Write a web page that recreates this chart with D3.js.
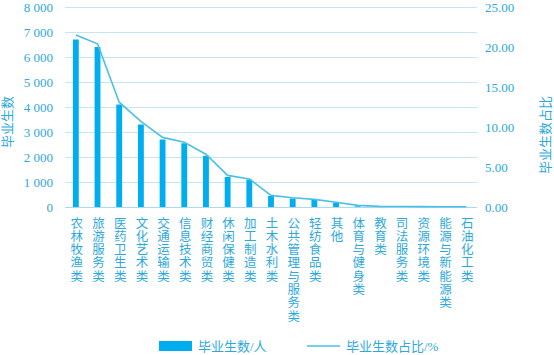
<!DOCTYPE html>
<html>
<head>
<meta charset="utf-8">
<script src="https://cdn.jsdelivr.net/npm/d3@7/dist/d3.min.js"></script>
<style>
  html, body { margin: 0; padding: 0; background: #fff; }
  svg { display: block; }
  text { font-family: "Liberation Serif", "Noto Sans CJK SC", serif; }
</style>
</head>
<body>
<svg id="chart" width="554" height="355"></svg>
<script>
const categories = ["农林牧渔类","旅游服务类","医药卫生类","文化艺术类","交通运输类","信息技术类","财经商贸类","休闲保健类","加工制造类","土木水利类","公共管理与服务类","轻纺食品类","其他","体育与健身类","教育类","司法服务类","资源环境类","能源与新能源类","石油化工类"];
const graduates = [6700, 6400, 4100, 3300, 2700, 2550, 2050, 1200, 1100, 440, 340, 280, 170, 30, 15, 12, 10, 6, 3];
const shares = [21.5, 20.4, 13.1, 10.7, 8.7, 8.1, 6.6, 3.95, 3.5, 1.45, 1.15, 0.95, 0.6, 0.2, 0.08, 0.06, 0.05, 0.04, 0.03];
const leftTicks = [0, 1000, 2000, 3000, 4000, 5000, 6000, 7000, 8000];
const rightTicks = [0, 5, 10, 15, 20, 25];
const seriesNames = ["毕业生数/人", "毕业生数占比/%"];
const leftTitle = "毕业生数";
const rightTitle = "毕业生数占比";

const textColor = "#2da9dd";
const barColor = "#00aeef";
const lineColor = "#4dc0e8";
const gridColor = "#c3e5f4";

const svg = d3.select("#chart");
const plot = { left: 65, right: 477, top: 7, bottom: 207 };

const x = d3.scaleBand().domain(d3.range(categories.length)).range([plot.left, plot.right]).paddingInner(0.73).paddingOuter(0.365);
const xc = i => x(i) + x.bandwidth() / 2;
const yL = d3.scaleLinear().domain([0, 8000]).range([plot.bottom, plot.top]);
const yR = d3.scaleLinear().domain([0, 25]).range([plot.bottom, plot.top]);

const fmtL = d => d3.format(",")(d).replace(/,/g, " ");

// grid
svg.append("g").selectAll("line").data(leftTicks).join("line")
  .attr("x1", plot.left).attr("x2", plot.right)
  .attr("y1", d => yL(d) + 0.5).attr("y2", d => yL(d) + 0.5)
  .attr("stroke", gridColor).attr("stroke-width", 1);

// left axis labels
svg.append("g").selectAll("text").data(leftTicks).join("text")
  .attr("x", 53).attr("y", d => yL(d)).attr("dy", "0.35em")
  .attr("text-anchor", "end").attr("font-size", 13).attr("fill", textColor)
  .text(fmtL);

// right axis labels
svg.append("g").selectAll("text").data(rightTicks).join("text")
  .attr("x", 485).attr("y", d => yR(d)).attr("dy", "0.35em")
  .attr("text-anchor", "start").attr("font-size", 13).attr("fill", textColor)
  .text(d => d3.format(".2f")(d));

// bars
svg.append("g").selectAll("rect").data(graduates).join("rect")
  .attr("x", (d, i) => x(i)).attr("width", x.bandwidth())
  .attr("y", d => yL(d)).attr("height", d => yL(0) - yL(d))
  .attr("fill", barColor);

// bottom axis line
svg.append("line")
  .attr("x1", plot.left).attr("x2", plot.right)
  .attr("y1", plot.bottom + 0.5).attr("y2", plot.bottom + 0.5)
  .attr("stroke", "#a9daef").attr("stroke-width", 1);

// line
const line = d3.line().x((d, i) => xc(i)).y(d => yR(d));
svg.append("path").datum(shares)
  .attr("d", line).attr("fill", "none")
  .attr("stroke", lineColor).attr("stroke-width", 1.6);

// category labels (vertical)
const labels = svg.append("g").selectAll("text").data(categories).join("text")
  .attr("font-size", 12.5).attr("fill", textColor).attr("text-anchor", "middle");
labels.each(function(d, i) {
  const t = d3.select(this);
  Array.from(d).forEach((ch, k) => {
    t.append("tspan").attr("x", xc(i) + 1).attr("y", 227.5 + k * 13.3).text(ch);
  });
});

// axis titles
svg.append("text")
  .attr("transform", "translate(12,122) rotate(-90)")
  .attr("text-anchor", "middle").attr("font-size", 13).attr("fill", textColor)
  .text(leftTitle);
svg.append("text")
  .attr("transform", "translate(550,135) rotate(-90)")
  .attr("text-anchor", "middle").attr("font-size", 13).attr("fill", textColor)
  .text(rightTitle);

// legend
const lg = svg.append("g");
lg.append("rect").attr("x", 159).attr("y", 341).attr("width", 33).attr("height", 10).attr("fill", barColor);
lg.append("text").attr("x", 198).attr("y", 346).attr("dy", "0.35em")
  .attr("font-size", 13).attr("fill", textColor).text(seriesNames[0]);
lg.append("line").attr("x1", 307).attr("x2", 340).attr("y1", 346).attr("y2", 346)
  .attr("stroke", lineColor).attr("stroke-width", 1.6);
lg.append("text").attr("x", 346).attr("y", 346).attr("dy", "0.35em")
  .attr("font-size", 13).attr("fill", textColor).text(seriesNames[1]);
</script>
</body>
</html>
